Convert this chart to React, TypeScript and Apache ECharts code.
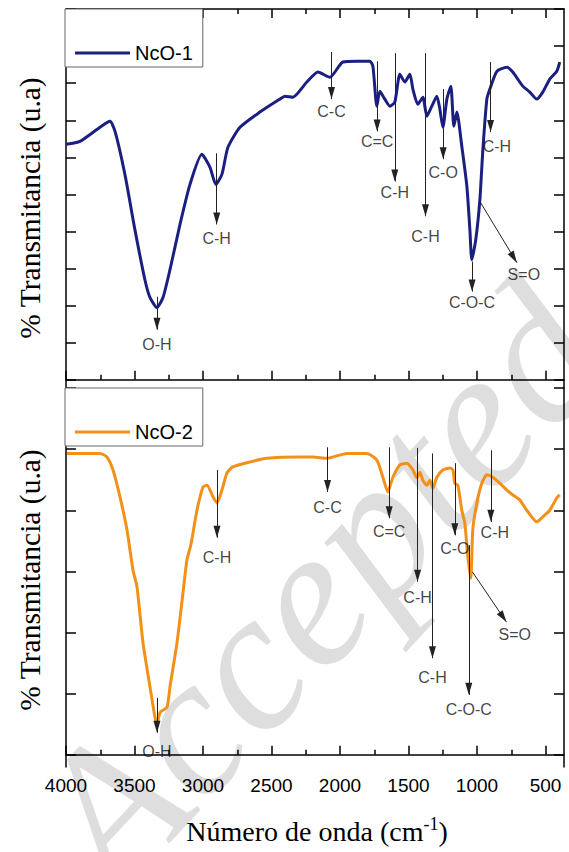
import React, { useEffect, useRef } from "react";
import * as echarts from "echarts";

// wavenumber (cm-1), transmittance (arbitrary units, tick units)
const ncO1Wave = [4000, 3898, 3752, 3679, 3642, 3570, 3497, 3424, 3387, 3336,
  3292, 3241, 3168, 3095, 3008, 2949, 2906, 2862, 2818, 2730,
  2585, 2439, 2402, 2344, 2242, 2161, 2074, 1979, 1877, 1782,
  1760, 1731, 1709, 1673, 1636, 1600, 1563, 1527, 1490, 1468,
  1432, 1395, 1366, 1330, 1293, 1271, 1249, 1220, 1191, 1169,
  1147, 1111, 1074, 1052, 1038, 1009, 979, 957, 928, 906,
  855, 782, 739, 666, 615, 564, 520, 469, 418, 396];
const ncO1T = [6.35, 6.43, 6.81, 6.97, 6.70, 5.54, 4.05, 2.70, 2.22, 1.95,
  2.22, 2.97, 4.19, 5.27, 6.08, 5.73, 5.27, 5.54, 6.27, 6.81,
  7.22, 7.57, 7.65, 7.62, 8.03, 8.30, 8.16, 8.57, 8.59, 8.59,
  8.46, 7.38, 7.78, 7.57, 7.38, 7.49, 8.24, 8.03, 8.24, 7.84,
  7.43, 7.62, 7.11, 7.38, 7.65, 7.30, 6.81, 7.57, 7.92, 6.84,
  7.22, 6.30, 5.22, 4.05, 3.24, 3.78, 4.86, 6.22, 7.57, 7.84,
  8.32, 8.43, 8.30, 7.92, 7.76, 7.57, 7.76, 8.11, 8.32, 8.57];

const ncO2Wave = [3993, 3752, 3701, 3657, 3606, 3555, 3511, 3482, 3438, 3387,
  3351, 3336, 3314, 3263, 3241, 3190, 3146, 3117, 3088, 3044,
  3000, 2971, 2927, 2898, 2862, 2825, 2782, 2658, 2533, 2293,
  2198, 2096, 1950, 1804, 1731, 1687, 1651, 1614, 1563, 1512,
  1468, 1439, 1417, 1395, 1366, 1344, 1322, 1293, 1249, 1198,
  1176, 1162, 1140, 1111, 1089, 1067, 1045, 1031, 1001, 965,
  928, 885, 833, 782, 739, 688, 637, 564, 520, 469,
  418, 396];
const ncO2T = [4.93, 4.93, 4.87, 4.66, 4.22, 3.68, 3.02, 2.75, 1.83, 1.11,
  0.62, 0.49, 0.69, 0.78, 1.11, 1.83, 2.65, 3.19, 3.44, 4.00,
  4.38, 4.41, 4.22, 4.12, 4.33, 4.61, 4.71, 4.79, 4.85, 4.87,
  4.87, 4.85, 4.93, 4.93, 4.82, 4.54, 4.30, 4.54, 4.74, 4.77,
  4.66, 4.53, 4.62, 4.49, 4.41, 4.49, 4.36, 4.54, 4.66, 4.69,
  4.66, 4.44, 4.41, 4.00, 3.79, 3.24, 2.89, 3.68, 4.12, 4.44,
  4.58, 4.54, 4.44, 4.33, 4.25, 4.17, 4.00, 3.81, 3.89, 4.00,
  4.20, 4.25];

const majorTicks = [4000, 3500, 3000, 2500, 2000, 1500, 1000, 500];
const minorTicks = [3750, 3250, 2750, 2250, 1750, 1250, 750];
const upperYTicks = [0, 1, 2, 3, 4, 5, 6, 7, 8, 9, 10];
const lowerYTicks = [0, 1, 2, 3, 4, 5, 6];

// band assignments: label, arrow start, arrow tip, label anchor (wavenumber, transmittance)
const ncO1Bands = [
  { label: "O-H", from: [3336, 2.24], to: [3336, 1.35], at: [3336, 0.95] },
  { label: "C-H", from: [2900, 6.11], to: [2900, 4.19], at: [2900, 3.81] },
  { label: "C-C", from: [2062, 8.84], to: [2062, 7.57], at: [2062, 7.24] },
  { label: "C=C", from: [1729, 8.59], to: [1729, 6.70], at: [1729, 6.43] },
  { label: "C-H", from: [1600, 8.81], to: [1600, 5.35], at: [1600, 5.05] },
  { label: "C-H", from: [1376, 8.81], to: [1376, 4.41], at: [1376, 3.86] },
  { label: "C-O", from: [1247, 7.84], to: [1247, 5.95], at: [1247, 5.59] },
  { label: "C-H", from: [901, 8.57], to: [901, 6.68], at: [855, 6.30] },
  { label: "C-O-C", from: [1036, 3.19], to: [1036, 2.38], at: [1036, 2.08] },
  { label: "S=O", from: [979, 4.81], to: [709, 3.16], at: [658, 2.84] },
];
const ncO2Bands = [
  { label: "O-H", from: [3336, 0.93], to: [3336, 0.36], at: [3336, 0.05] },
  { label: "C-H", from: [2898, 4.66], to: [2898, 3.55], at: [2898, 3.22] },
  { label: "C-C", from: [2091, 5.03], to: [2091, 4.30], at: [2091, 4.05] },
  { label: "C=C", from: [1641, 5.03], to: [1641, 3.87], at: [1641, 3.66] },
  { label: "C-H", from: [1434, 5.02], to: [1434, 2.83], at: [1434, 2.58] },
  { label: "C-H", from: [1325, 4.93], to: [1325, 1.58], at: [1325, 1.26] },
  { label: "C-O", from: [1162, 4.77], to: [1162, 3.59], at: [1162, 3.38] },
  { label: "C-H", from: [899, 4.98], to: [899, 3.81], at: [870, 3.63] },
  { label: "C-O-C", from: [1060, 3.43], to: [1060, 0.98], at: [1060, 0.74] },
  { label: "S=O", from: [1033, 2.99], to: [785, 2.17], at: [724, 1.96] },
];

const SANS = "Liberation Sans, Arial, sans-serif";
const SERIF = "Liberation Serif, Times New Roman, serif";

export default function App() {
  const ref = useRef<HTMLDivElement>(null);
  useEffect(() => {
    if (!ref.current) return;
    const chart = echarts.init(ref.current, null, { renderer: "svg" });
    const line1 = ncO1Wave.map((w, i) => [w, ncO1T[i]]);
    const line2 = ncO2Wave.map((w, i) => [w, ncO2T[i]]);

    const xBase = (grid: number, pos: string) => ({
      type: "value",
      gridIndex: grid,
      position: pos,
      inverse: true,
      min: 365,
      max: 4000,
      splitLine: { show: false },
      axisLabel: { show: false },
    });
    const lineStyleAxis = { show: true, lineStyle: { color: "#000", width: 1.5 } };
    const majorTick = { show: true, inside: true, length: 9, customValues: majorTicks, lineStyle: { color: "#000", width: 1.5 } };
    const minorTick = { show: true, inside: true, length: 5, customValues: minorTicks, lineStyle: { color: "#000", width: 1.5 } };

    const yBase = (grid: number, pos: string, min: number, max: number, ticks: number[]) => ({
      type: "value",
      gridIndex: grid,
      position: pos,
      min,
      max,
      splitLine: { show: false },
      axisLabel: { show: false },
      axisLine: lineStyleAxis,
      axisTick: { show: true, inside: true, length: 10, customValues: ticks, lineStyle: { color: "#000", width: 1.5 } },
    });

    const markLineFor = (bands: any[]) => ({
      silent: true,
      symbol: ["none", "triangle"],
      symbolSize: 10,
      label: { show: false },
      emphasis: { disabled: true },
      lineStyle: { color: "#222", width: 1, type: "solid", opacity: 1 },
      itemStyle: { color: "#111" },
      data: bands.map((b) => [
        { coord: b.from, symbol: "none" },
        { coord: b.to, symbol: "triangle", symbolSize: [7, 12], symbolOffset: [0, 6] },
      ]),
    });

    const labelSeries = (bands: any[], xi: number, yi: number, name: string) => ({
      type: "scatter",
      name,
      xAxisIndex: xi,
      yAxisIndex: yi,
      symbolSize: 0,
      silent: true,
      z: 5,
      label: {
        show: true,
        position: "inside",
        formatter: "{b}",
        fontSize: 16,
        fontFamily: SANS,
        color: "#111",
      },
      data: bands.map((b) => ({ name: b.label, value: b.at })),
    });

    const legendBase = (name: string, top: number) => ({
      data: [name],
      left: 65,
      top,
      orient: "horizontal",
      icon: "rect",
      itemWidth: 55,
      itemHeight: 3,
      padding: [34, 10, 4, 10],
      borderColor: "#666",
      borderWidth: 1,
      backgroundColor: "#fff",
      selectedMode: false,
      textStyle: { fontSize: 20, fontFamily: SANS, color: "#000" },
    });

    chart.setOption({
      animation: false,
      backgroundColor: "#fff",
      grid: [
        { left: 66, top: 9, width: 498, height: 379 },
        { left: 66, top: 388, width: 498, height: 379 },
      ],
      legend: [legendBase("NcO-1", 9), legendBase("NcO-2", 388)],
      xAxis: [
        { ...xBase(0, "bottom"), axisLine: lineStyleAxis, axisTick: majorTick },
        { ...xBase(0, "bottom"), axisLine: { show: false }, axisTick: minorTick },
        { ...xBase(0, "top"), axisLine: lineStyleAxis, axisTick: majorTick },
        { ...xBase(0, "top"), axisLine: { show: false }, axisTick: minorTick },
        {
          ...xBase(1, "bottom"),
          axisLine: lineStyleAxis,
          axisTick: majorTick,
          axisLabel: {
            show: true,
            customValues: majorTicks,
            formatter: (v: number) => String(v),
            fontSize: 19,
            fontFamily: SANS,
            color: "#000",
            margin: 9,
          },
        },
        { ...xBase(1, "bottom"), axisLine: { show: false }, axisTick: minorTick },
      ],
      yAxis: [
        yBase(0, "left", -0.22, 10, upperYTicks),
        yBase(0, "right", -0.22, 10, upperYTicks),
        yBase(1, "left", -0.2, 6, lowerYTicks),
        yBase(1, "right", -0.2, 6, lowerYTicks),
      ],
      graphic: [
        {
          type: "text",
          z: -10,
          x: 318,
          y: 585,
          rotation: 0.82,
          silent: true,
          style: {
            text: "Accepted",
            font: "italic 200px " + SERIF,
            fill: "rgba(0,0,0,0.13)",
            textAlign: "center",
            textVerticalAlign: "middle",
          },
        },
        {
          type: "text",
          x: 30,
          y: 208,
          rotation: Math.PI / 2,
          style: {
            text: "% Transmitancia (u.a)",
            font: "29.5px " + SERIF,
            fill: "#000",
            textAlign: "center",
            textVerticalAlign: "middle",
          },
        },
        {
          type: "text",
          x: 30,
          y: 580,
          rotation: Math.PI / 2,
          style: {
            text: "% Transmitancia (u.a)",
            font: "29.5px " + SERIF,
            fill: "#000",
            textAlign: "center",
            textVerticalAlign: "middle",
          },
        },
        {
          type: "text",
          x: 317,
          y: 830,
          style: {
            text: "{a|Número de onda (cm}{s|-1}{a|)}",
            textAlign: "center",
            textVerticalAlign: "middle",
            rich: {
              a: { fontSize: 28, fontFamily: SERIF, fill: "#000", lineHeight: 30, verticalAlign: "bottom" },
              s: { fontSize: 18, fontFamily: SERIF, fill: "#000", lineHeight: 18, verticalAlign: "top" },
            },
          },
        },
      ],
      series: [
        {
          type: "line",
          name: "NcO-1",
          xAxisIndex: 0,
          yAxisIndex: 0,
          data: line1,
          color: "#1A1F80",
          showSymbol: false,
          smooth: 0.2,
          lineStyle: { width: 3, color: "#1A1F80" },
          z: 3,
          markLine: markLineFor(ncO1Bands),
        },
        {
          type: "line",
          name: "NcO-2",
          xAxisIndex: 4,
          yAxisIndex: 2,
          data: line2,
          color: "#F39019",
          showSymbol: false,
          smooth: 0.2,
          lineStyle: { width: 3, color: "#F39019" },
          z: 3,
          markLine: markLineFor(ncO2Bands),
        },
        labelSeries(ncO1Bands, 0, 0, "lab1"),
        labelSeries(ncO2Bands, 4, 2, "lab2"),
      ],
    });
    return () => chart.dispose();
  }, []);
  return <div ref={ref} style={{ position: "fixed", left: 0, top: 0, width: 569, height: 852 }} />;
}
